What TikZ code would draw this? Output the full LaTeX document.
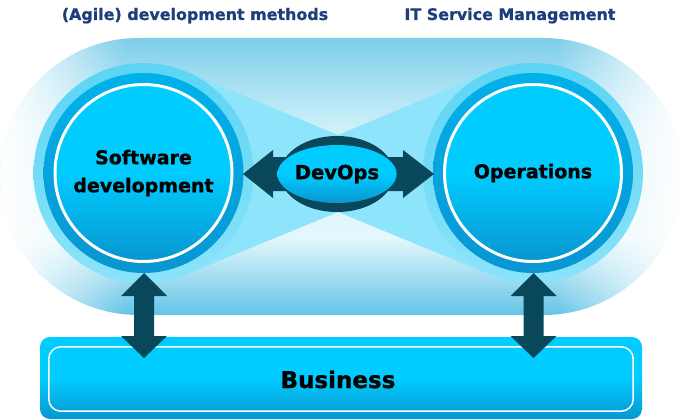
\documentclass[tikz,border=0pt]{standalone}
\usepackage{fontspec}
\setmainfont{DejaVu Sans}[BoldFeatures={FakeBold=1.0}]
\usetikzlibrary{shapes.geometric,fadings,calc}
\definecolor{navy}{RGB}{28,62,122}
\definecolor{darkteal}{RGB}{8,72,90}
\definecolor{halotop}{RGB}{92,212,244}
\definecolor{halobot}{RGB}{138,228,250}
\definecolor{ringtop}{RGB}{0,178,234}
\definecolor{ringbot}{RGB}{8,150,210}
\definecolor{disktop}{RGB}{0,204,255}
\definecolor{diskbot}{RGB}{8,150,208}
\definecolor{bowtie}{RGB}{142,228,250}
\definecolor{pilltop}{RGB}{126,206,234}
\definecolor{pillA}{RGB}{205,240,250}
\definecolor{pillB}{RGB}{228,247,252}
\definecolor{pillbot}{RGB}{100,196,230}
\pgfdeclareverticalshading{diskshade}{100bp}{color(0bp)=(diskbot); color(25bp)=(diskbot); color(50bp)=(disktop); color(100bp)=(disktop)}
\pgfdeclareverticalshading{ringshade}{100bp}{color(0bp)=(ringbot); color(25bp)=(ringbot); color(75bp)=(ringtop); color(100bp)=(ringtop)}
\pgfdeclareverticalshading{haloshade}{100bp}{color(0bp)=(halobot); color(25bp)=(halobot); color(75bp)=(halotop); color(100bp)=(halotop)}
\pgfdeclareverticalshading{pillshade}{100bp}{color(0bp)=(pillbot); color(25bp)=(pillbot); color(39bp)=(pillB); color(59bp)=(pillA); color(75bp)=(pilltop); color(100bp)=(pilltop)}
\tikzfading[name=fadeL, left color=transparent!0, right color=transparent!100]
\tikzfading[name=fadeR, left color=transparent!100, right color=transparent!0]
\tikzset{
  title/.style={text=navy, font=\fontsize{15.9}{19}\selectfont\bfseries, anchor=base},
  disk/.style={circle, shading=diskshade, minimum size=174pt, inner sep=0pt, align=center,
    font=\fontsize{19}{28}\selectfont\bfseries},
  blockarrow/.style={fill=darkteal},
  inner ellipse/.style={ellipse, shading=diskshade, minimum width=96pt, minimum height=58pt,
    inner sep=0pt, font=\fontsize{19.5}{23}\selectfont\bfseries},
}
\begin{document}
\begin{tikzpicture}[x=1pt,y=-1pt]
\useasboundingbox (0,0) rectangle (681,420);
% titles
\node[title] (t1) at (195,20) {(Agile) development methods};
\node[title] (t2) at (510,20) {IT Service Management};
% background pill
\begin{scope}
  \path[clip, rounded corners=138.5pt] (0,38) rectangle (682,315);
  \shade[shading=pillshade] (0,38) rectangle (682,315);
  \fill[white, path fading=fadeL] (0,38) rectangle (125,315);
  \fill[white, path fading=fadeR] (557,38) rectangle (682,315);
\end{scope}
% centres
\coordinate (cL) at (143.5,173);
\coordinate (cR) at (533,173);
% bow tie
\fill[bowtie] (338,135) -- (185,71) -- (cL) -- (185,275) -- (338,212)
  -- (491,275) -- (cR) -- (491,71) -- cycle;
% circles
\shade[shading=haloshade] (cL) circle (110pt);
\shade[shading=ringshade] (cL) circle (100pt);
\shade[shading=haloshade] (cR) circle (110pt);
\shade[shading=ringshade] (cR) circle (100pt);
\node[disk] (sw) at (cL) {Software\\development};
\node[disk] (ops) at (cR) {Operations};
\draw[white, line width=3pt] (cL) circle (88.5pt);
\draw[white, line width=3pt] (cR) circle (88.5pt);
% business bar
\node[rounded corners=10pt, shading=diskshade, minimum width=602pt, minimum height=82pt,
  inner sep=0pt] (biz) at (341,378) {};
\draw[white, line width=1.5pt, rounded corners=12pt]
  ($(biz.north west)+(9,10)$) rectangle ($(biz.south east)+(-9,-8)$);
\node[font=\fontsize{23}{27}\selectfont\bfseries, anchor=base] (biztext) at (338,388) {Business};
% horizontal double arrow
\coordinate (hL) at (243,174);
\coordinate (hR) at (434,174);
\fill[blockarrow] (hL) -- ++(30,-24) -- ++(0,7) -- ($(hR)+(-31,-17)$) -- ++(0,-7) -- (hR)
  -- ++(-31,24) -- ++(0,-7) -- ($(hL)+(30,17)$) -- ++(0,7) -- cycle;
% DevOps ellipse
\node[ellipse, fill=darkteal, minimum width=114pt, minimum height=76pt, inner sep=0pt] (dvo) at (337,174) {};
\node[inner ellipse] (dvi) at (dvo.center) {DevOps};
% vertical double arrows
\foreach \c/\n in {cL/vl, cR/vr}{
  \coordinate (\n t) at ($(\c)+(0.5,100)$);
  \coordinate (\n b) at ($(\c)+(0.5,185)$);
  \fill[blockarrow] (\n t) -- ++(23,23) -- ++(-13,0) -- ($(\n b)+(10,-22)$) -- ++(13,0) -- (\n b)
    -- ++(-23,-22) -- ++(13,0) -- ($(\n t)+(-10,23)$) -- ++(-13,0) -- cycle;
}
\end{tikzpicture}
\end{document}
